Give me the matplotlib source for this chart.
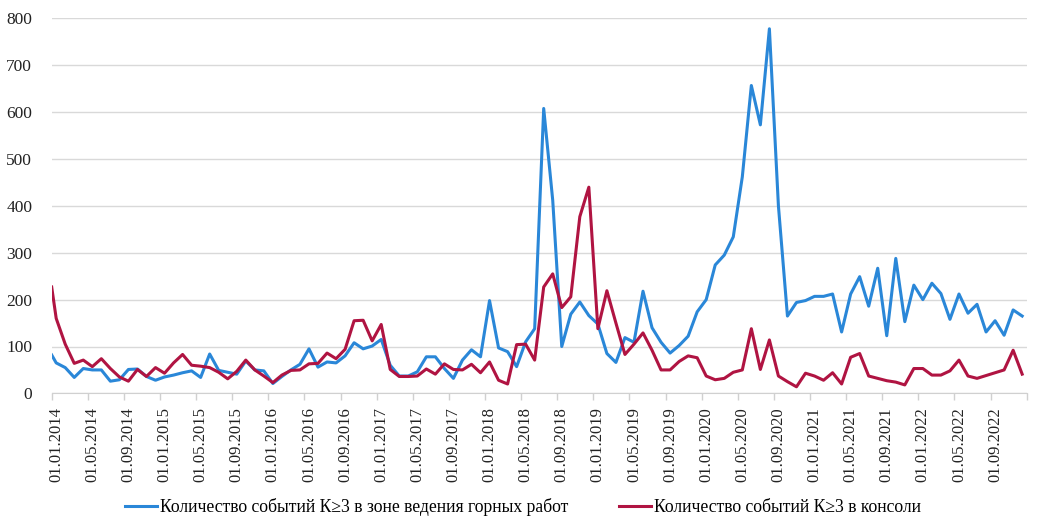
import numpy as np
import pandas as pd
import matplotlib
matplotlib.use('Agg')
import matplotlib.pyplot as plt

plt.rcParams['font.family'] = ['Liberation Serif', 'DejaVu Serif']

# months 01.01.2014 .. 01.12.2022
months = pd.date_range('2014-01-01', periods=108, freq='MS')

# first value sits on the axis edge, the rest in the middle of each month
start_zone = 82
start_console = 227

zone = [65, 55, 34, 53, 50, 50, 26, 29, 51, 52, 36, 28,
        35, 39, 44, 48, 34, 84, 49, 45, 41, 69, 50, 48,
        21, 36, 50, 62, 95, 56, 67, 65, 80, 108, 95, 101,
        115, 60, 37, 37, 46, 78, 78, 53, 32, 71, 93, 78,
        198, 97, 89, 57, 110, 138, 608, 412, 100, 169, 195, 166,
        148, 85, 66, 119, 109, 218, 140, 109, 86, 102, 122, 174,
        200, 274, 295, 334, 462, 657, 573, 778, 400, 165, 194, 198,
        207, 207, 212, 131, 212, 249, 186, 267, 123, 288, 153, 231,
        200, 235, 213, 158, 212, 171, 190, 131, 155, 124, 178, 165]

console = [160, 105, 64, 71, 57, 74, 53, 35, 26, 51, 36, 55,
           43, 65, 83, 60, 58, 55, 45, 31, 47, 71, 50, 37,
           23, 39, 49, 50, 63, 64, 86, 74, 94, 155, 156, 112,
           147, 51, 36, 36, 37, 52, 41, 63, 51, 50, 62, 44,
           67, 28, 20, 104, 105, 71, 227, 255, 183, 206, 377, 440,
           138, 219, 150, 83, 105, 129, 92, 50, 50, 68, 80, 76,
           37, 29, 32, 45, 50, 138, 51, 114, 37, 25, 14, 43,
           37, 28, 44, 20, 77, 85, 37, 32, 27, 24, 18, 53,
           53, 39, 39, 48, 71, 37, 32, 38, 44, 50, 92, 41]

label_zone = 'Количество событий К≥3 в зоне ведения горных работ'
label_console = 'Количество событий К≥3 в консоли'

x = np.concatenate([[0.0], np.arange(len(months)) + 0.5])
y_zone = [start_zone] + zone
y_console = [start_console] + console

fig = plt.figure(figsize=(10.42, 5.28), dpi=100)
ax = fig.add_axes([0.0496, 0.255, 0.9357, 0.710])

ax.plot(x, y_zone, color='#2a87d8', lw=2.2, label=label_zone)
ax.plot(x, y_console, color='#b01442', lw=2.2, label=label_console)

ax.set_xlim(0, len(months))
ax.set_ylim(0, 800)
ax.set_yticks(np.arange(0, 801, 100))
ax.yaxis.grid(True, color='#d9d9d9', lw=1)
ax.set_axisbelow(True)

# tick marks on month boundaries, labels in the middle of the month
ax.set_xticks(np.arange(0, len(months) + 1, 4))
ax.set_xticklabels([])
ax.set_xticks(np.arange(0, len(months), 4) + 0.5, minor=True)
ax.set_xticklabels(months[::4].strftime('%d.%m.%Y'), minor=True, rotation=90,
                   fontsize=12, color='#222222')
ax.tick_params(axis='x', which='major', length=5, color='#d0d0d0', width=1)
ax.tick_params(axis='x', which='minor', length=0, pad=10)
ax.tick_params(axis='y', length=0, pad=14, labelsize=12.5, labelcolor='#222222')

for s in ['top', 'right', 'left']:
    ax.spines[s].set_visible(False)
ax.spines['bottom'].set_color('#d0d0d0')

fig.legend(loc='center', bbox_to_anchor=(0.502, 0.04), ncol=2, frameon=False,
           fontsize=12.7, handlelength=1.8, handletextpad=0.15, columnspacing=2.9)

fig.savefig('out.png', dpi=100)
